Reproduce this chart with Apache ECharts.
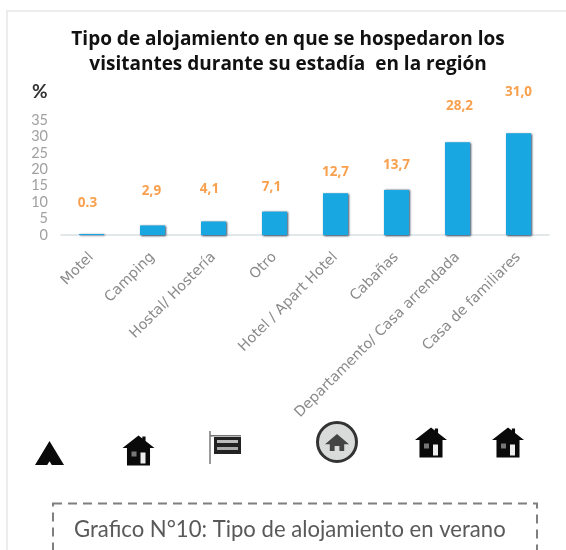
<!DOCTYPE html>
<html><head><meta charset="utf-8">
<style>html,body{margin:0;padding:0;background:#fff}#c{width:566px;height:550px;filter:blur(0.6px)}</style>
<script src="https://cdn.jsdelivr.net/npm/echarts@6/dist/echarts.min.js"></script>
</head><body><div id="c"></div>
<script>
const categories = ["Motel","Camping","Hostal/ Hostería","Otro","Hotel / Apart Hotel","Cabañas","Departamento/ Casa arrendada","Casa de familiares"];
const values = [0.3,2.9,4.1,7.1,12.7,13.7,28.2,31.0];
const valueLabels = ["0.3","2,9","4,1","7,1","12,7","13,7","28,2","31,0"];
const yTicks = [0,5,10,15,20,25,30,35];
const titleLines = "Tipo de alojamiento en que se hospedaron los\nvisitantes durante su estadía  en la región";
const caption = "Grafico N°10: Tipo de alojamiento en verano";
const labelLift = [19,22,20,13,9,13,24,29];
const labelShift = [-4,-1,-4,-3,0,0,2,0];

function scaled(pts, x, y, w, h){ return pts.map(p=>[x+p[0]*w/100, y+p[1]*h/100]); }
const housePts = [[50,0],[62,10],[62,3],[72,3],[72,18],[100,42],[86,42],[86,100],[14,100],[14,42],[0,42]];
const tentPts = [[50,0],[100,100],[58,100],[50,84],[42,100],[0,100]];
const roofPts = [[50,0],[100,60],[80,60],[80,100],[60,100],[60,70],[40,70],[40,100],[20,100],[20,60],[0,60]];
function house(cx, cy){
  return [
    {type:'polygon',shape:{points:scaled(housePts,cx-16,cy-15,32,30)},style:{fill:'#0a0a0a'}},
    {type:'rect',shape:{x:cx+2,y:cy+2,width:5,height:11},style:{fill:'#eee'}},
    {type:'rect',shape:{x:cx-7,y:cy+1,width:5,height:5},style:{fill:'#777'}}
  ];
}
const chart = echarts.init(document.getElementById('c'),null,{renderer:'canvas'});
chart.setOption({
  animation:false,
  backgroundColor:'#fff',
  grid:{left:61,right:17,top:120,bottom:315,containLabel:false},
  xAxis:{type:'category',data:categories,
    axisLine:{lineStyle:{color:'#d9dfe3',width:1.5}},axisTick:{show:false},
    axisLabel:{interval:0,rotate:45,color:'#8a8a8a',fontFamily:'DejaVu Sans',fontSize:14.3,margin:20}},
  yAxis:{type:'value',min:0,max:35,interval:5,
    axisLine:{show:false},axisTick:{show:false},splitLine:{show:false},
    axisLabel:{color:'#a0a0a0',fontFamily:'Lato',fontSize:14.5,margin:13,
      formatter:v=>yTicks.includes(v)?String(v):''}},
  series:[{type:'bar',barWidth:25,
    data:values.map((v,i)=>({value:v,
      label:{show:true,position:'top',offset:[labelShift[i],-labelLift[i]],formatter:valueLabels[i]}})),
    itemStyle:{color:'#19a7e2',shadowColor:'rgba(0,30,60,0.8)',shadowBlur:2,shadowOffsetX:1,shadowOffsetY:0.5},
    label:{color:'#f9a04e',fontFamily:'Open Sans',fontWeight:'bold',fontSize:13.5}
  }],
  graphic:[
    {type:'rect',shape:{x:7,y:11,width:600,height:600},style:{fill:'none',stroke:'#ececec',lineWidth:2}},
    {type:'text',style:{text:titleLines,x:288,y:52,align:'center',verticalAlign:'middle',
      fill:'#111',font:'bold 19px "Open Sans"',lineHeight:25}},
    {type:'text',style:{text:'%',x:32,y:92,align:'left',verticalAlign:'middle',fill:'#333',font:'bold 19px Lato'}},
    {type:'polygon',shape:{points:scaled(tentPts,35,441,29,24)},style:{fill:'#0a0a0a'}},
    ...house(138.5,450.5),
    {type:'rect',shape:{x:209,y:431,width:2,height:33},style:{fill:'#9a9a9a'}},
    {type:'rect',shape:{x:210,y:435,width:31,height:1.5},style:{fill:'#777'}},
    {type:'rect',shape:{x:214,y:437,width:27,height:17},style:{fill:'#222'}},
    {type:'rect',shape:{x:217,y:440,width:21,height:3},style:{fill:'#bbb'}},
    {type:'rect',shape:{x:217,y:447,width:21,height:3},style:{fill:'#aaa'}},
    {type:'circle',shape:{cx:337,cy:442,r:19.5},style:{fill:'#d8dbd9',stroke:'#333',lineWidth:3}},
    {type:'polygon',shape:{points:scaled(roofPts,325,434,24,17)},style:{fill:'#444'}},
    ...house(431,442.5),
    ...house(508,442.5),
    {type:'rect',shape:{x:53,y:503.5,width:484,height:80},style:{fill:'none',stroke:'#7f7f7f',lineWidth:2,lineDash:[9,6]}},
    {type:'text',style:{text:caption,x:74,y:530,align:'left',verticalAlign:'middle',fill:'#595959',font:'22.1px Lato'}}
  ]
});
</script></body></html>
